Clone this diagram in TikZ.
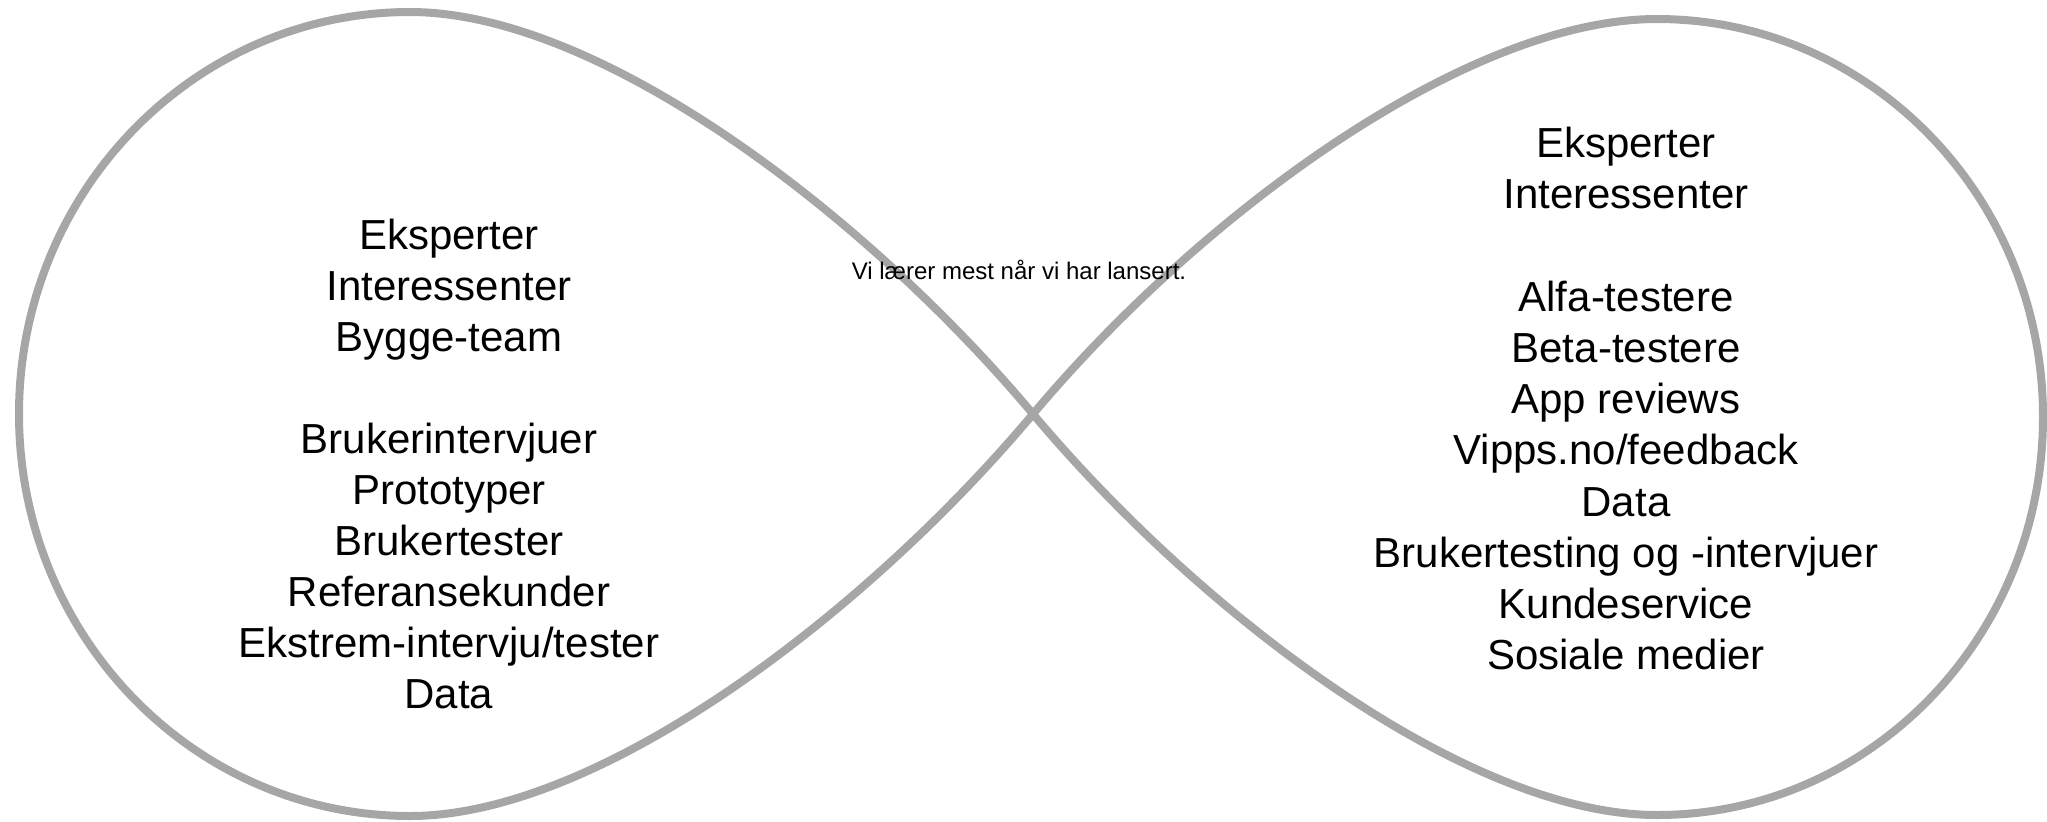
\documentclass[tikz,border=0pt]{standalone}
\usepackage{fontspec}
\setmainfont{Liberation Sans}
\definecolor{loopgray}{RGB}{166,166,166}
\begin{document}
\begin{tikzpicture}[x=0.5pt,y=-0.5pt,
  loopline/.style={draw=loopgray,line width=4pt,line join=round},
  itemtext/.style={font=\fontsize{21}{25.6}\selectfont,anchor=base,inner sep=0pt},
  notetext/.style={font=\fontsize{12}{14}\selectfont,anchor=base,inner sep=0pt}]
\useasboundingbox (0,0) rectangle (2047,821);
\coordinate (C) at (1033,414);
\coordinate (TL) at (410,12);
\coordinate (LL) at (19,414);
\coordinate (BL) at (410,816);
\coordinate (TR) at (1657,19);
\coordinate (RR) at (2043,417);
\coordinate (BR) at (1657,815);
\draw[loopline] (C) .. controls (866,215) and (600,12) .. (TL)
  .. controls (194,12) and (19,192) .. (LL)
  .. controls (19,636) and (194,816) .. (BL)
  .. controls (600,816) and (866,613) .. (C)
  .. controls (1200,215) and (1466,19) .. (TR)
  .. controls (1870,19) and (2043,197) .. (RR)
  .. controls (2043,637) and (1870,815) .. (BR)
  .. controls (1466,815) and (1200,613) .. (C);
% left block
\node[itemtext] (l1) at (449,249) {Eksperter};
\node[itemtext] (l2) at (449,300) {Interessenter};
\node[itemtext] (l3) at (449,351) {Bygge-team};
\node[itemtext] (l4) at (449,453) {Brukerintervjuer};
\node[itemtext] (l5) at (449,504) {Prototyper};
\node[itemtext] (l6) at (449,555) {Brukertester};
\node[itemtext] (l7) at (449,606) {Referansekunder};
\node[itemtext] (l8) at (449,657) {Ekstrem-intervju/tester};
\node[itemtext] (l9) at (449,708) {Data};
% right block
\node[itemtext] (r1) at (1626,157) {Eksperter};
\node[itemtext] (r2) at (1626,208) {Interessenter};
\node[itemtext] (r3) at (1626,311) {Alfa-testere};
\node[itemtext] (r4) at (1626,362) {Beta-testere};
\node[itemtext] (r5) at (1626,413) {App reviews};
\node[itemtext] (r6) at (1626,464) {Vipps.no/feedback};
\node[itemtext] (r7) at (1626,516) {Data};
\node[itemtext] (r8) at (1626,567) {Brukertesting og -intervjuer};
\node[itemtext] (r9) at (1626,618) {Kundeservice};
\node[itemtext] (r10) at (1626,669) {Sosiale medier};
% note
\node[notetext] (note) at (1019,279) {Vi lærer mest når vi har lansert.};
\end{tikzpicture}
\end{document}
